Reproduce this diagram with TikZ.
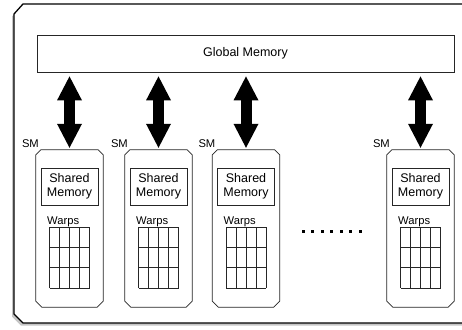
\documentclass[tikz,border=0pt]{standalone}
\usepackage{fontspec}
\setmainfont{Liberation Sans}
\usetikzlibrary{arrows.meta,shadows}

\tikzset{
  mem/.style={draw=black!85, line width=0.8pt, rectangle, inner sep=0pt, align=center,
              font=\fontsize{12.5}{14}\selectfont},
  smbox/.style={rectangle, minimum width=67pt, minimum height=157pt, inner sep=0pt},
  edgeline/.style={draw=black!85, line width=0.8pt},
  small/.style={font=\fontsize{11.2}{13}\selectfont, inner sep=0pt},
  bus/.style={line width=11pt, shorten <=4pt, shorten >=2pt,
              {Triangle[width=25pt,length=24pt,line width=0pt]}-{Triangle[width=25pt,length=24pt,line width=0pt]}}
}

\begin{document}
\begin{tikzpicture}[x=1pt,y=-1pt]
\useasboundingbox (0,0) rectangle (462,329);
\clip (0,0) rectangle (462,329);

% frame
\draw[line width=1.3pt, fill=white,
      drop shadow={shadow xshift=-2pt, shadow yshift=-2.5pt, fill=black!45}]
  (14,14) -- (23,4) -- (480,4) -- (480,323) -- (23,323) -- (14,314) -- cycle;

\node[mem, minimum width=417pt, minimum height=37pt] (GM) at (245.5,53.5) {Global Memory};

  \node[smbox]   (SM1) at (69.5,228.5)  {};
  \node[smbox]   (SM2) at (158.5,228.5) {};
  \node[smbox]   (SM3) at (246,228.5)   {};
  \node[smbox]   (SM4) at (420.5,228.5) {};

\foreach \n/\x in {1/69.5,2/158.5,3/246,4/420.5} {
  % cut corners of the SM
  \draw[edgeline] ([yshift=-5pt]SM\n.north west) -- ([xshift=5pt]SM\n.north west)
    -- ([xshift=-5pt]SM\n.north east) -- ([yshift=-5pt]SM\n.north east)
    -- ([yshift=6pt]SM\n.south east) -- ([xshift=-6pt]SM\n.south east)
    -- ([xshift=6pt]SM\n.south west) -- ([yshift=6pt]SM\n.south west) -- cycle;
  \node[small, anchor=base east] (L\n) at (\x-30.5,147) {SM};
  \node[mem, minimum width=57pt, minimum height=37pt] (SH\n) at (\x,186.5) {Shared\\Memory};
  \node[small, anchor=base west] (W\n) at (\x-22.5,224) {Warps};
  % warps grid
  \foreach \i in {0,...,4}
    \draw[edgeline] (\x-20+10*\i,227) -- (\x-20+10*\i,288);
  \foreach \j in {0,...,3}
    \draw[edgeline] (\x-20,227+20.33*\j) -- (\x+20,227+20.33*\j);
  \draw[bus] (SM\n.north |- GM.south) -- (SM\n.north);
}

% more SMs
\foreach \k in {0,...,6}
  \fill (301.5+9.5*\k,229.5) rectangle ++(3,3);
\end{tikzpicture}
\end{document}
